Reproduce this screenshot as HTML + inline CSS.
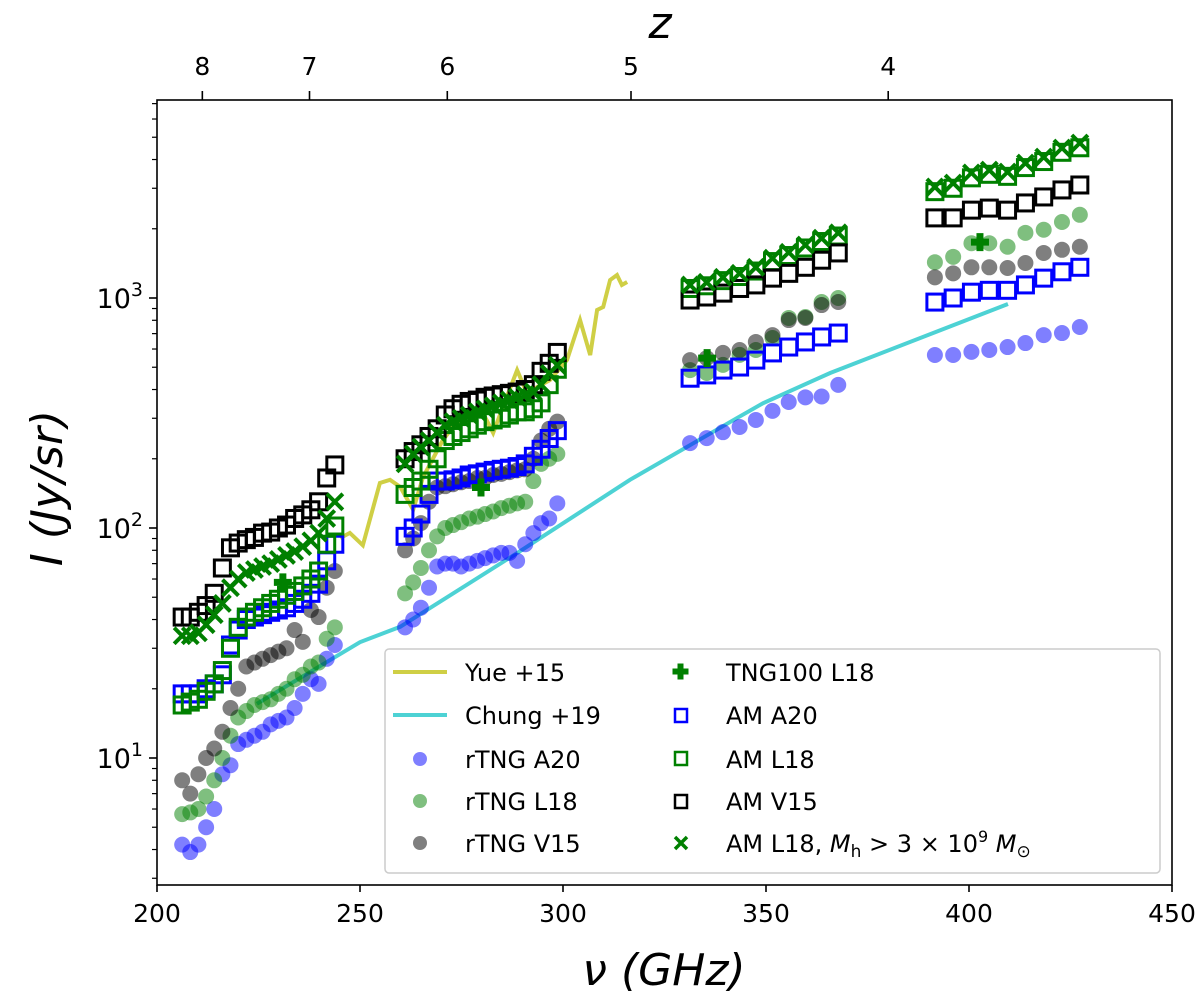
<!DOCTYPE html>
<html><head><meta charset="utf-8"><style>
body{margin:0;background:#fff;}
svg{display:block;font-family:"DejaVu Sans","Liberation Sans",sans-serif;}
</style></head><body>
<svg id="chart" width="1200" height="1001" xmlns="http://www.w3.org/2000/svg">
<g id="marks"></g>
<g id="axes"></g>
<g id="legend"></g>
</svg>
<script>
const g1Nu=[206.2,208.2,210.2,212.1,214.1,216.1,218.1,220.0,222.0,224.0,226.0,228.0,229.9,231.9,233.9,235.9,237.9,239.8,241.8,243.8];
const g2Nu=[261.1,263.1,265.0,267.0,269.0,271.0,272.9,274.9,276.9,278.9,280.8,282.8,284.8,286.8,288.7,290.7,292.7,294.6,296.6,298.6];
const g3Nu=[331.3,335.4,339.4,343.5,347.5,351.6,355.6,359.7,363.7,367.8];
const g4Nu=[391.6,396.1,400.6,405.0,409.5,413.9,418.4,422.9,427.3];

const rA20=[[4.2,3.9,4.2,5,6,8.5,9.3,11.5,12,12.5,13,14,14.5,15,16.5,19,22,21,27,31],
 [37,40,45,55,68,70,70,68,70,72,74,76,78,78,72,85,95,105,110,128],
 [234,246,261,275,295,323,353,370,373,419],
 [565,565,583,594,612,637,690,704,748]];
const rL18=[[5.7,5.8,6,6.8,8,10,12.5,15,16,17,17.5,18,19,20,22,23,25,26,33,37],
 [52,58,67,80,92,100,103,106,110,112,115,118,122,125,128,130,160,190,200,210],
 [486,472,512,566,594,670,819,827,961,1000],
 [1430,1510,1730,1730,1670,1920,1980,2140,2300]];
const rV15=[[8,7,8.5,10,11,13,16.5,20,25,26,27,28,29,30,36,32,44,41,55,65],
 [80,90,105,130,150,152,155,158,160,165,165,170,172,175,178,180,200,240,270,290],
 [537,548,577,594,644,690,802,819,932,961],
 [1230,1280,1360,1360,1350,1420,1570,1620,1670]];
const amA20=[[19,19,19,20,21,23,31,36,40,41,42,43,44,45,47,49,52,57,72,85],
 [92,100,115,140,160,160,162,165,170,172,175,178,180,182,185,190,205,220,245,265],
 [448,463,486,501,537,577,612,644,677,704],
 [960,1000,1060,1080,1080,1140,1220,1300,1360]];
const amL18=[[17,17.5,18,19.5,21,24,30,37,41,43,45,47,49,51,53,56,60,65,85,102],
 [140,150,160,180,200,240,250,260,270,280,290,295,300,310,320,320,330,350,420,490],
 [1100,1130,1190,1240,1310,1440,1530,1650,1760,1860],
 [2900,3000,3330,3450,3380,3690,3920,4300,4500]];
const amV15=[[41,41,43,46,52,67,82,86,89,91,95,96,100,103,110,114,120,130,165,188],
 [200,215,230,250,270,310,330,345,355,360,370,375,380,385,390,400,420,480,520,580],
 [980,1010,1050,1100,1140,1220,1280,1360,1460,1570],
 [2230,2230,2410,2460,2410,2590,2750,2950,3100]];
const amMh=[[34,34,35,38,42,47,55,60,64,66,68,70,73,76,79,83,88,95,110,130],
 [190,210,225,240,260,280,290,300,310,320,330,340,350,360,370,380,390,420,470,510],
 [1140,1170,1230,1280,1360,1490,1580,1700,1820,1920],
 [3040,3160,3500,3600,3530,3860,4100,4490,4720]];
const tngNu=[231,279.8,335.5,402.7];
const tngI=[58,150,548,1750];
const chungNu=[224.6,250,259.9,288.7,316.5,342.9,349.3,365.8,409.6];
const chungI=[17.2,31.9,37.2,77.8,162,301,349,472,942];
const yueNu=[245.1,247.5,250.7,254.9,257.4,259.9,263.1,265.5,270.4,272.9,275.4,280.3,282.8,285.2,288.7,291.1,293.6,296.8,301.0,304.2,306.7,308.4,309.9,311.6,313.3,314.5,315.8];
const yueI=[90.4,95.2,84.1,157,162,151,120,166,241,275,304,316,259,336,486,386,410,440,538,802,565,887,914,1197,1259,1139,1174];
const xTicks=[200,250,300,350,400,450];
const zTicks=[8,7,6,5,4];
const yTickExp=[1,2,3];

const L=157,R=1172,T=100,B=885;
const X=v=>L+(v-200)*(R-L)/250;
const Y=v=>298-(Math.log10(v)-3)*230;
const NS="http://www.w3.org/2000/svg";
function mk(tag,attrs,parent){const e=document.createElementNS(NS,tag);for(const k in attrs)e.setAttribute(k,attrs[k]);parent.appendChild(e);return e;}
const marks=document.getElementById('marks'),axes=document.getElementById('axes'),leg=document.getElementById('legend');
const groups=[g1Nu,g2Nu,g3Nu,g4Nu];

function circles(series,color,name){groups.forEach((nu,gi)=>{nu.forEach((n,i)=>{const c=mk('circle',{cx:X(n),cy:Y(series[gi][i]),r:8,fill:color,'fill-opacity':0.5},marks);

});});}
function squares(series,color,name){groups.forEach((nu,gi)=>{nu.forEach((n,i)=>{const r=mk('rect',{x:X(n)-8,y:Y(series[gi][i])-8,width:16,height:16,fill:'none',stroke:color,'stroke-width':3},marks);

});});}
function crosses(series,color,name){groups.forEach((nu,gi)=>{nu.forEach((n,i)=>{const x=X(n),y=Y(series[gi][i]);const p=mk('path',{d:`M${x-8},${y-8}L${x+8},${y+8}M${x-8},${y+8}L${x+8},${y-8}`,stroke:color,'stroke-width':4},marks);

});});}
function line(nu,vals,color,name){const d=nu.map((n,i)=>(i?'L':'M')+X(n)+','+Y(vals[i])).join('');const p=mk('path',{d:d,fill:'none',stroke:color,'stroke-width':4},marks);

}
function plus(x,y,s,parent){return mk('path',{d:`M${x-3.5*s},${y-9*s}h${7*s}v${5.5*s}h${5.5*s}v${7*s}h${-5.5*s}v${5.5*s}h${-7*s}v${-5.5*s}h${-5.5*s}v${-7*s}h${5.5*s}z`,fill:'#008000'},parent);}

line(yueNu,yueI,'#cfcf45','yue-15-line');
line(chungNu,chungI,'#4dd2d4','chung-19-line');
circles(rA20,'#0000ff','rtng-a20-point');
circles(rL18,'#008000','rtng-l18-point');
circles(rV15,'#000000','rtng-v15-point');
squares(amA20,'#0000ff','am-a20-point');
squares(amL18,'#008000','am-l18-point');
squares(amV15,'#000000','am-v15-point');
crosses(amMh,'#008000','am-l18-mh-point');
tngNu.forEach((n,i)=>{const p=plus(X(n),Y(tngI[i]),1,marks);

});

mk('rect',{x:L,y:T,width:R-L,height:B-T,fill:'none',stroke:'#000','stroke-width':1.6},axes);
xTicks.forEach(v=>{mk('line',{x1:X(v),x2:X(v),y1:B,y2:B+7,stroke:'#000','stroke-width':1.6},axes);
const t=mk('text',{x:X(v),y:B+37,'text-anchor':'middle','font-size':25},axes);t.textContent=v;

});
zTicks.forEach(z=>{const x=X(1900.5/(1+z));mk('line',{x1:x,x2:x,y1:T,y2:T-9,stroke:'#000','stroke-width':1.6},axes);
const t=mk('text',{x:x,y:T-25,'text-anchor':'middle','font-size':25},axes);t.textContent=z;

});
for(let e=0;e<=3;e++)for(let m=1;m<10;m++){const v=m*Math.pow(10,e);const y=Y(v);if(y<T||y>B)continue;
mk('line',{x1:L,x2:L-(m==1?8:5),y1:y,y2:y,stroke:'#000','stroke-width':m==1?1.6:1.2},axes);}
yTickExp.forEach(e=>{const t=mk('text',{x:L-14,y:Y(Math.pow(10,e))+10,'text-anchor':'end','font-size':27},axes);
t.innerHTML='10<tspan dy="-12" font-size="19">'+e+'</tspan>';

});
</script>
<script>
const ax=document.getElementById('axes');
ax.insertAdjacentHTML('beforeend',
'<text x="664" y="985" text-anchor="middle" font-size="44" font-style="italic">ν (GHz)</text>'+
'<text x="660" y="38" text-anchor="middle" font-size="44" font-style="italic">z</text>'+
'<text transform="translate(62,488) rotate(-90)" text-anchor="middle" font-size="44" font-style="italic">I (Jy/sr)</text>');
const lg=document.getElementById('legend');
lg.insertAdjacentHTML('beforeend',
'<rect x="385" y="649" width="775" height="224" rx="4" fill="#fff" fill-opacity="0.85" stroke="#ccc" stroke-width="1.5"/>'+
'<g font-size="24">'+
'<line x1="393" x2="447" y1="672" y2="672" stroke="#cfcf45" stroke-width="4"/><text x="465" y="681">Yue +15</text>'+
'<line x1="393" x2="447" y1="715" y2="715" stroke="#4dd2d4" stroke-width="4"/><text x="465" y="724">Chung +19</text>'+
'<circle cx="420" cy="759" r="7" fill="#0000ff" fill-opacity="0.5"/><text x="465" y="768">rTNG A20</text>'+
'<circle cx="420" cy="801" r="7" fill="#008000" fill-opacity="0.5"/><text x="465" y="810">rTNG L18</text>'+
'<circle cx="420" cy="843" r="7" fill="#000" fill-opacity="0.5"/><text x="465" y="852">rTNG V15</text>'+
'<path d="M678,664h5v5h5v5h-5v5h-5v-5h-5v-5h5z" fill="#008000" stroke="#008000" stroke-width="1"/><text x="726" y="681">TNG100 L18</text>'+
'<rect x="675" y="709" width="12" height="13" fill="none" stroke="#00f" stroke-width="2.5"/><text x="726" y="724">AM A20</text>'+
'<rect x="675" y="752" width="12" height="13" fill="none" stroke="#008000" stroke-width="2.5"/><text x="726" y="768">AM L18</text>'+
'<rect x="675" y="795" width="12" height="13" fill="none" stroke="#000" stroke-width="2.5"/><text x="726" y="810">AM V15</text>'+
'<path d="M675,837l12,12M675,849l12,-12" stroke="#008000" stroke-width="3.5"/><text x="726" y="852">AM L18, <tspan font-style="italic">M</tspan><tspan font-size="17" dy="5">h</tspan><tspan dy="-5"> &gt; 3 × 10</tspan><tspan font-size="16" dy="-10">9</tspan><tspan dy="10"> </tspan><tspan font-style="italic">M</tspan><tspan font-size="17" dy="5">⊙</tspan></text>'+
'</g>');
</script>
</body></html>
